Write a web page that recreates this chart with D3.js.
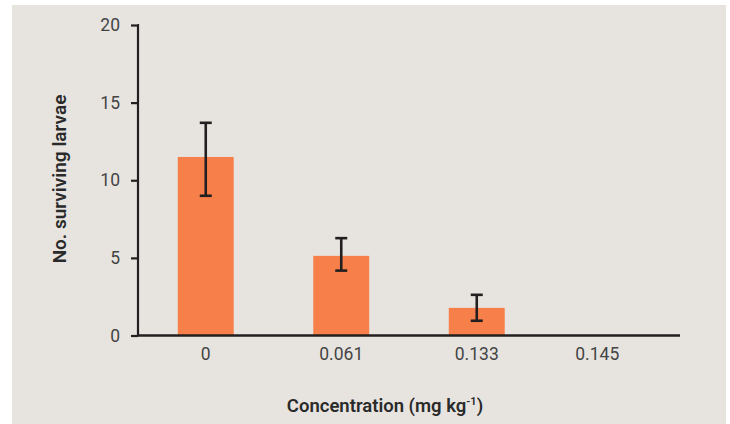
<!DOCTYPE html>
<html>
<head>
<meta charset="utf-8">
<script src="https://cdn.jsdelivr.net/npm/d3@7"></script>
<style>
  html, body { margin: 0; padding: 0; background: #ffffff; }
  svg { display: block; }
</style>
</head>
<body>
<svg id="chart" width="730" height="424"></svg>
<script>
const categories = ["0", "0.061", "0.133", "0.145"];
const values = [11.5, 5.13, 1.78, 0];
const errLow = [9.0, 4.18, 0.95, null];
const errHigh = [13.7, 6.27, 2.62, null];
const yTicks = [0, 5, 10, 15, 20];

const svg = d3.select("#chart");
const W = 730, H = 424;

svg.append("rect").attr("x", 12).attr("y", 5).attr("width", 714).attr("height", H - 5).attr("fill", "#e7e4e0");

const x = d3.scaleBand().domain(categories).range([138, 680]).paddingInner(0.587).paddingOuter(0.2935);
const y = d3.scaleLinear().domain([0, 20]).range([335.5, 25]);

const font = "Roboto, 'Open Sans', sans-serif";

// bars
svg.append("g").selectAll("rect").data(categories).join("rect")
  .attr("x", d => x(d))
  .attr("width", x.bandwidth())
  .attr("y", (d, i) => y(values[i]))
  .attr("height", (d, i) => y(0) - y(values[i]))
  .attr("fill", "#f7804a");

// error bars
const eg = svg.append("g").attr("stroke", "#231f20").attr("stroke-width", 2.6).attr("fill", "none");
categories.forEach((c, i) => {
  if (errLow[i] == null) return;
  const cx = x(c) + x.bandwidth() / 2;
  eg.append("line").attr("x1", cx).attr("x2", cx).attr("y1", y(errLow[i])).attr("y2", y(errHigh[i]));
  eg.append("line").attr("x1", cx - 6).attr("x2", cx + 6).attr("y1", y(errLow[i])).attr("y2", y(errLow[i]));
  eg.append("line").attr("x1", cx - 6).attr("x2", cx + 6).attr("y1", y(errHigh[i])).attr("y2", y(errHigh[i]));
});

// y axis
const yAxis = svg.append("g").attr("transform", "translate(138,0)")
  .call(d3.axisLeft(y).tickValues(yTicks).tickSize(7).tickPadding(11));
yAxis.select(".domain").attr("stroke", "#231f20").attr("stroke-width", 2.2).attr("d", `M-0.5,${y(20)}H0V${y(0)}`);
yAxis.selectAll(".tick line").attr("stroke", "#231f20").attr("stroke-width", 2.2);
yAxis.selectAll(".tick text").attr("fill", "#444").attr("font-size", 17.5).attr("font-family", font);

// x axis
const xAxis = svg.append("g").attr("transform", `translate(0,${y(0)})`)
  .call(d3.axisBottom(x).tickSize(0).tickPadding(12));
xAxis.select(".domain").attr("stroke", "#231f20").attr("stroke-width", 2.4).attr("d", `M137,0H680`);
xAxis.selectAll(".tick text").attr("fill", "#444").attr("font-size", 17.5).attr("font-family", font);
xAxis.selectAll(".tick text").filter((d, i) => i === categories.length - 1).attr("dx", -15);

// axis titles
const xt = svg.append("text").attr("x", 385).attr("y", 412).attr("text-anchor", "middle")
  .attr("font-family", font).attr("font-weight", 600).attr("font-size", 18.5).attr("fill", "#2a2a2a");
xt.append("tspan").text("Concentration (mg kg");
xt.append("tspan").attr("dy", -7).attr("font-size", 11).text("-1");
xt.append("tspan").attr("dy", 7).text(")");

svg.append("text").attr("transform", "translate(66,179) rotate(-90)").attr("text-anchor", "middle")
  .attr("font-family", font).attr("font-weight", 600).attr("font-size", 19).attr("fill", "#2a2a2a")
  .text("No. surviving larvae");
</script>
</body>
</html>
